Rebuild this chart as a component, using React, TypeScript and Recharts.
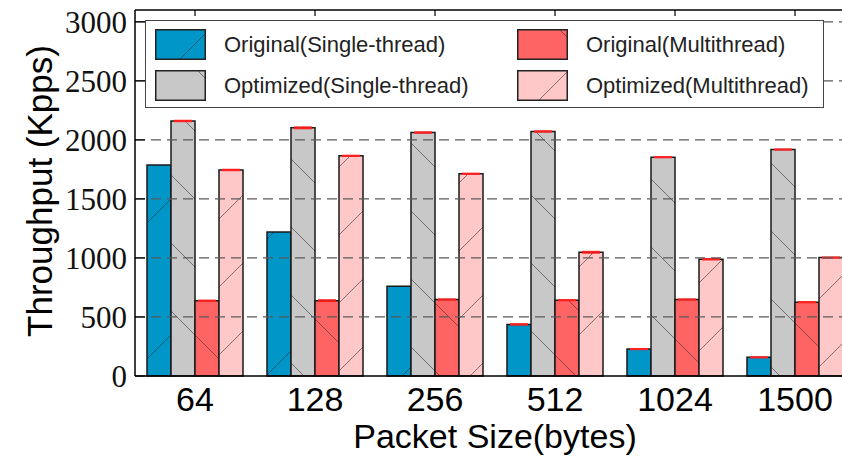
import React from 'react'
import {
  Bar,
  BarChart,
  ErrorBar,
  Legend,
  ReferenceLine,
  XAxis,
  YAxis,
} from 'recharts'

// packet sizes on the x axis
const sizes = ['64', '128', '256', '512', '1024', '1500']

// throughput in Kpps
const origSingle = [1787, 1220, 760, 437, 228, 158]
const optSingle = [2160, 2102, 2062, 2071, 1853, 1918]
const origMulti = [638, 638, 648, 642, 648, 625]
const optMulti = [1745, 1865, 1713, 1048, 989, 1003]

// small error bars (red caps on top of the bars)
const origSingleErr = [0, 0, 0, 4, 3, 3]
const optSingleErr = [4, 6, 4, 4, 3, 3]
const origMultiErr = [3, 6, 3, 3, 3, 3]
const optMultiErr = [4, 3, 3, 6, 4, 3]

const yTicks = [0, 500, 1000, 1500, 2000, 2500, 3000]

const series = [
  { key: 'origSingle', name: 'Original(Single-thread)', color: '#0096C8', fill: 'url(#hatchBlue)' },
  { key: 'optSingle', name: 'Optimized(Single-thread)', color: '#C8C8C8', fill: 'url(#hatchGray)' },
  { key: 'origMulti', name: 'Original(Multithread)', color: '#FF6464', fill: 'url(#hatchRed)' },
  { key: 'optMulti', name: 'Optimized(Multithread)', color: '#FFC8C8', fill: 'url(#hatchPink)' },
]

const data = sizes.map((size, i) => ({
  size,
  origSingle: origSingle[i],
  optSingle: optSingle[i],
  origMulti: origMulti[i],
  optMulti: optMulti[i],
  origSingleErr: origSingleErr[i],
  optSingleErr: optSingleErr[i],
  origMultiErr: origMultiErr[i],
  optMultiErr: optMultiErr[i],
}))

const sans = '"Liberation Sans", Arial, Helvetica, sans-serif'
const serif = '"Liberation Serif", "Times New Roman", serif'
const hatchStroke = 'rgba(40,40,40,0.55)'

function YTick(props: any) {
  const { x, y, payload } = props
  return (
    <g>
      <text
        x={x}
        y={y}
        dy="0.35em"
        textAnchor="end"
        fontSize={31}
        fontFamily={serif}
        fill="#111"
      >
        {payload.value}
      </text>
      <line x1={x + 8} x2={x + 18} y1={y} y2={y} stroke="#000" strokeWidth={1.2} />
    </g>
  )
}

function TopTick(props: any) {
  const { x, y } = props
  return <line x1={x} x2={x} y1={y} y2={y + 6} stroke="#000" strokeWidth={1.2} />
}

function YLabel(props: any) {
  const vb = props.viewBox || { x: 0, y: 10, width: 135, height: 366 }
  const cx = vb.x + 39
  const cy = vb.y + vb.height / 2 - 2
  return (
    <text
      x={cx}
      y={cy}
      transform={`rotate(-90, ${cx}, ${cy})`}
      textAnchor="middle"
      dominantBaseline="central"
      fontSize={35}
      fontFamily={sans}
      fill="#000"
    >
      Throughput (Kpps)
    </text>
  )
}

function XLabel(props: any) {
  const vb = props.viewBox || { x: 135, y: 376, width: 720, height: 83 }
  return (
    <text
      x={vb.x + vb.width / 2}
      y={vb.y + 72}
      textAnchor="middle"
      fontSize={34}
      fontFamily={sans}
      fill="#000"
    >
      Packet Size(bytes)
    </text>
  )
}

// legend swatch hatch lines, matching the bar hatches
const swatchLines: Record<string, string> = {
  origSingle: 'M25,30 L50,5',
  optSingle: 'M42,0 L50,8',
  origMulti: 'M42,0 L50,8',
  optMulti: 'M22,30 L50,2',
}

function Swatch({ k, color }: { k: string; color: string }) {
  return (
    <svg width={51} height={31} style={{ display: 'block', flex: 'none' }}>
      <rect x={0.75} y={0.75} width={49.5} height={29.5} fill={color} stroke="#222" strokeWidth={1.5} />
      <path d={swatchLines[k]} stroke={hatchStroke} strokeWidth={1} />
    </svg>
  )
}

function LegendBox() {
  return (
    <div
      style={{
        boxSizing: 'border-box',
        width: 679,
        height: 88,
        border: '1.5px solid #444',
        background: '#fff',
        display: 'grid',
        gridTemplateColumns: '362px 1fr',
        gridTemplateRows: '41px 41px',
        gridAutoFlow: 'column',
        padding: '3px 0 0 9px',
        fontFamily: sans,
        fontSize: 22,
        color: '#222',
      }}
    >
      {series.map((s) => (
        <div key={s.key} style={{ display: 'flex', alignItems: 'center' }}>
          <Swatch k={s.key} color={s.color} />
          <span style={{ marginLeft: 18, whiteSpace: 'nowrap' }}>{s.name}</span>
        </div>
      ))}
    </div>
  )
}

export default function App() {
  return (
    <div
      style={{
        position: 'absolute',
        left: 0,
        top: 0,
        width: 842,
        height: 459,
        overflow: 'hidden',
        background: '#fff',
      }}
    >
      <BarChart
        width={860}
        height={459}
        data={data}
        margin={{ top: 0, right: 5, bottom: 0, left: 0 }}
        barCategoryGap="10%"
        barGap={0}
      >
        <defs>
          <pattern id="hatchBlue" patternUnits="userSpaceOnUse" width={136} height={136} x={98}>
            <rect width={136} height={136} fill="#0096C8" />
            <path d="M-4,4 L4,-4 M0,136 L136,0 M132,140 L140,132" stroke={hatchStroke} strokeWidth={1} />
          </pattern>
          <pattern id="hatchPink" patternUnits="userSpaceOnUse" width={68} height={68} x={30}>
            <rect width={68} height={68} fill="#FFC8C8" />
            <path d="M-4,4 L4,-4 M0,68 L68,0 M64,72 L72,64" stroke={hatchStroke} strokeWidth={1} />
          </pattern>
          <pattern id="hatchGray" patternUnits="userSpaceOnUse" width={68} height={68} x={-4}>
            <rect width={68} height={68} fill="#C8C8C8" />
            <path d="M-4,-4 L72,72 M-4,64 L4,72 M64,-4 L72,4" stroke={hatchStroke} strokeWidth={1} />
          </pattern>
          <pattern id="hatchRed" patternUnits="userSpaceOnUse" width={68} height={68} x={-4}>
            <rect width={68} height={68} fill="#FF6464" />
            <path d="M-4,-4 L72,72 M-4,64 L4,72 M64,-4 L72,4" stroke={hatchStroke} strokeWidth={1} />
          </pattern>
        </defs>

        <XAxis
          dataKey="size"
          height={83}
          axisLine={{ stroke: '#000', strokeWidth: 1.5 }}
          tickLine={false}
          tickSize={0}
          tickMargin={11}
          tick={{ fontSize: 34, fill: '#000', fontFamily: sans }}
          label={XLabel}
        />
        <XAxis
          xAxisId="top"
          orientation="top"
          dataKey="size"
          height={10}
          axisLine={{ stroke: '#000', strokeWidth: 1.5 }}
          tickLine={false}
          tickSize={0}
          tickMargin={0}
          tick={TopTick}
        />
        <YAxis
          width={135}
          domain={[0, 3100]}
          ticks={yTicks}
          interval={0}
          axisLine={{ stroke: '#000', strokeWidth: 1.5 }}
          tickLine={false}
          tickSize={0}
          tickMargin={8}
          tick={YTick}
          label={YLabel}
        />

        {series.map((s) => (
          <Bar
            key={s.key}
            dataKey={s.key}
            name={s.name}
            fill={s.fill}
            stroke="#1a1a1a"
            strokeWidth={1.5}
            isAnimationActive={false}
          >
            <ErrorBar
              dataKey={`${s.key}Err`}
              width={9}
              stroke="#ff2020"
              strokeWidth={1.5}
              direction="y"
            />
          </Bar>
        ))}

        {yTicks
          .filter((v) => v > 0)
          .map((v) => (
            <ReferenceLine
              key={v}
              y={v}
              stroke="#5a5a5a"
              strokeWidth={1.3}
              strokeDasharray="10 6"
            />
          ))}

        <Legend
          layout="vertical"
          align="center"
          verticalAlign="middle"
          content={() => <LegendBox />}
          wrapperStyle={{ left: 145, top: 20, width: 679, height: 88 }}
        />
      </BarChart>
    </div>
  )
}
